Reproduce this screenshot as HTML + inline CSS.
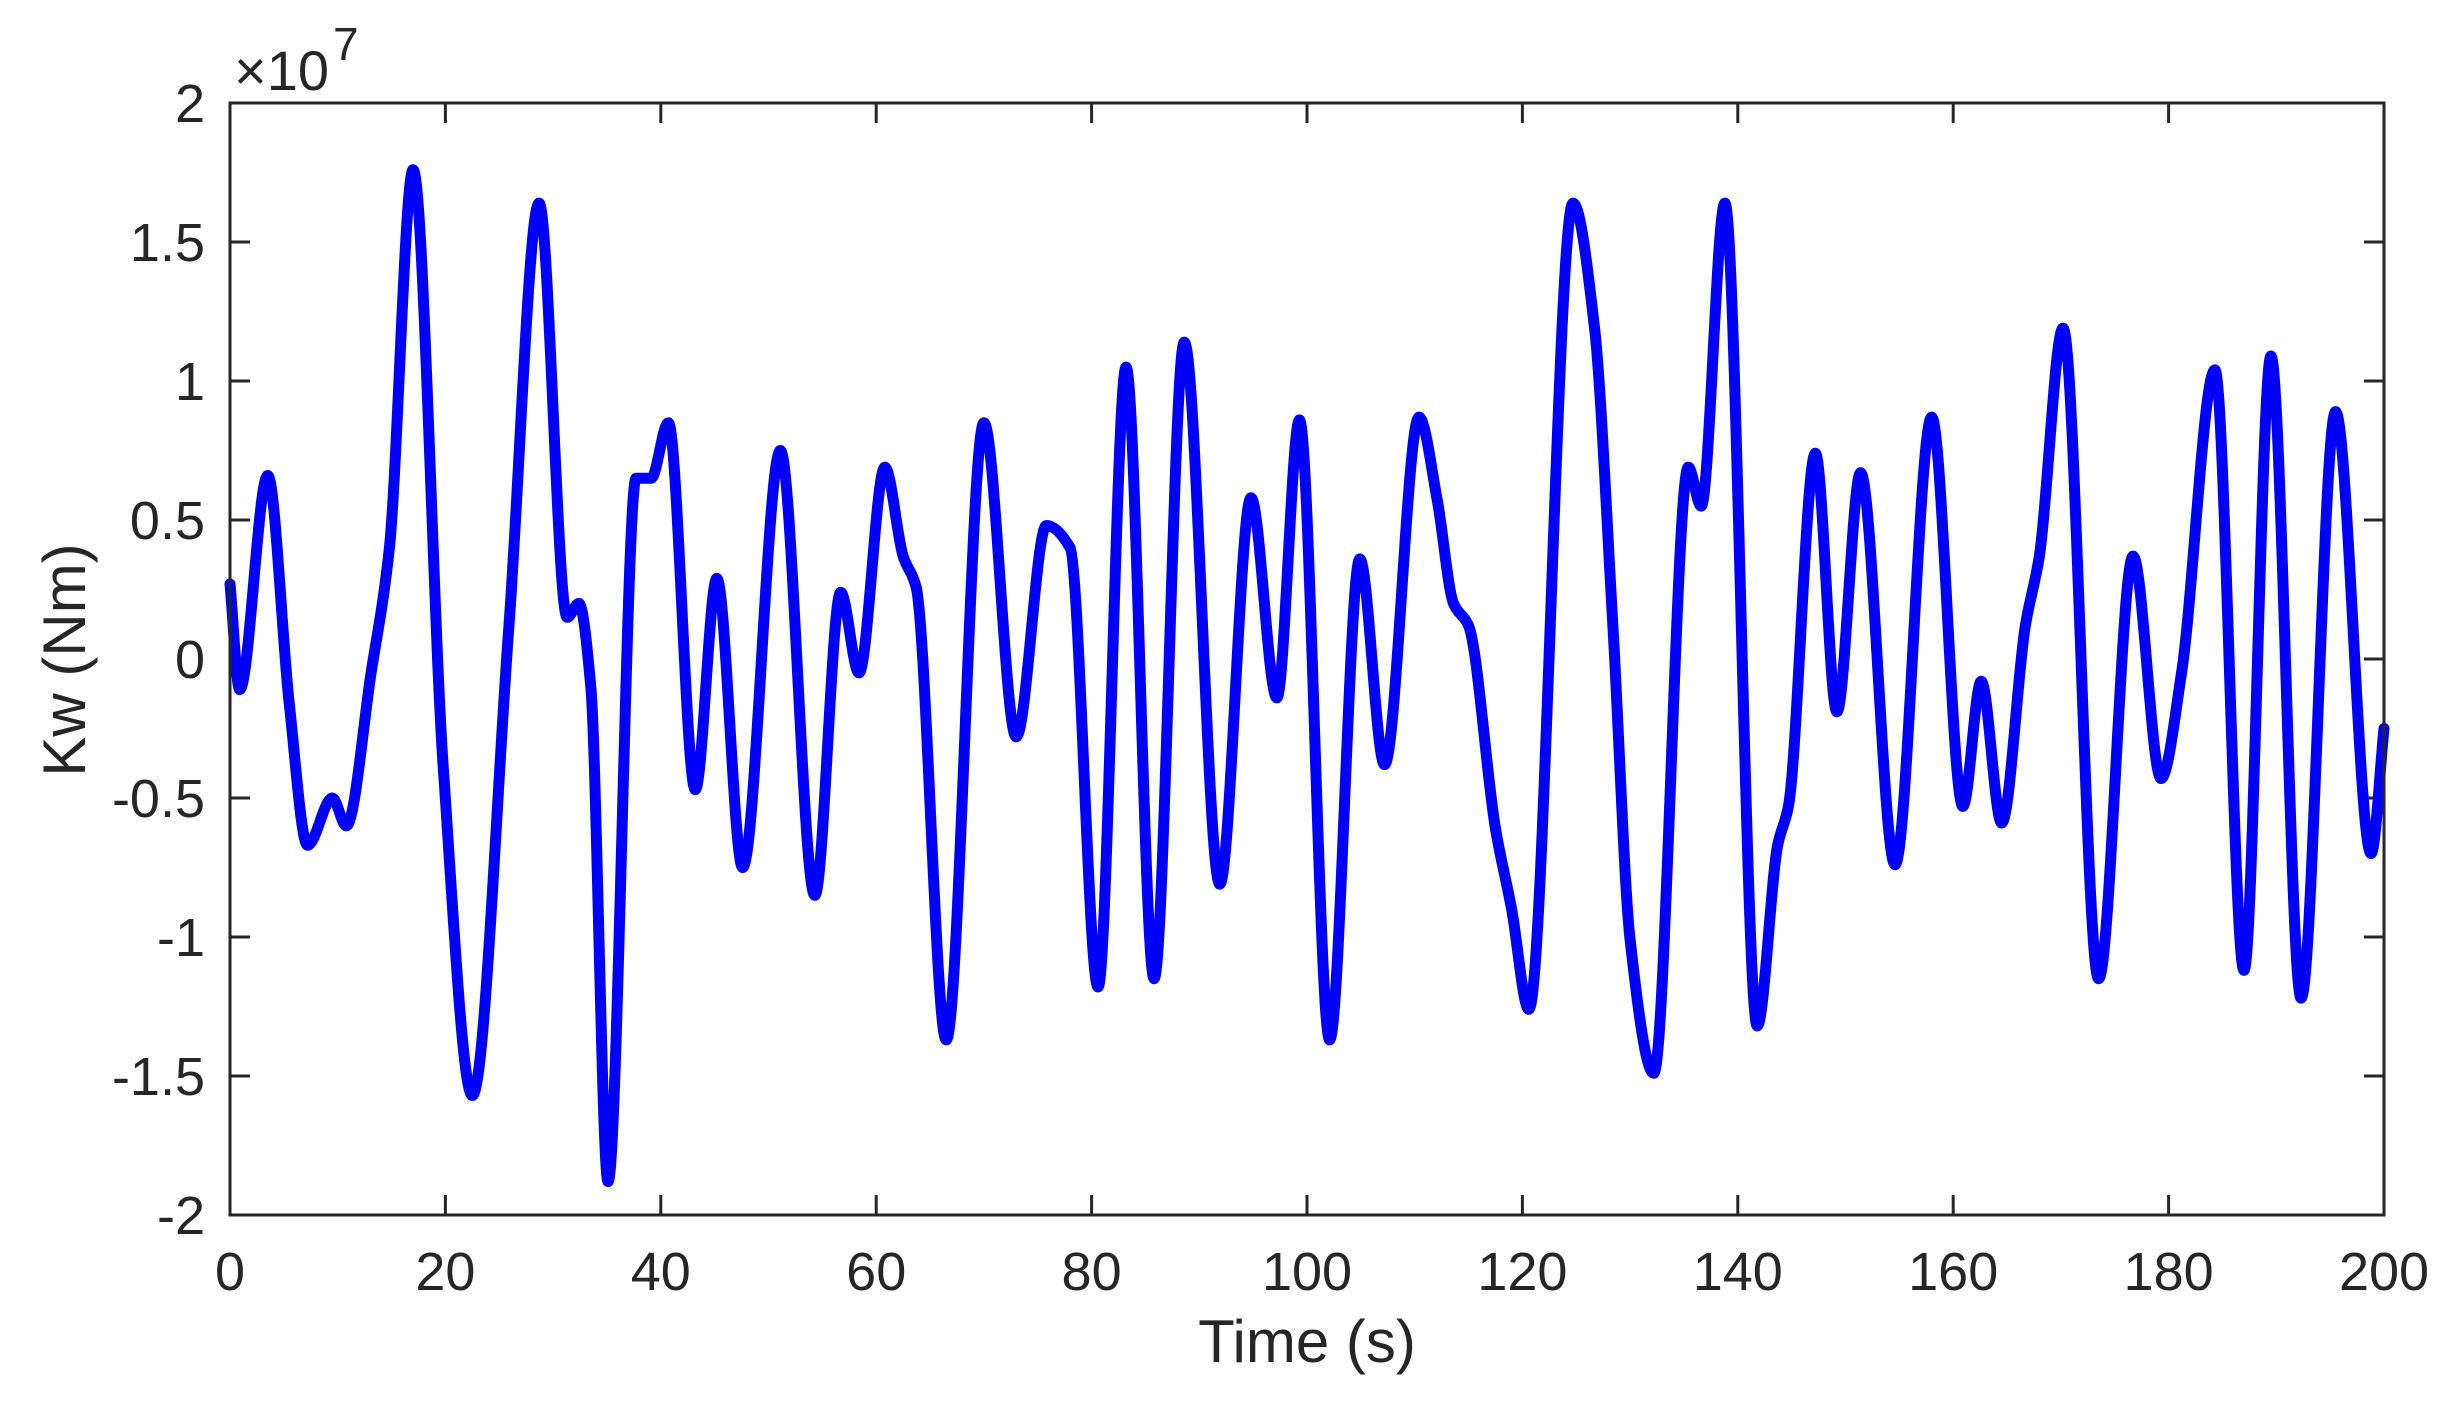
<!DOCTYPE html>
<html><head><meta charset="utf-8"><style>
html,body{margin:0;padding:0;background:#fff;}
svg{display:block;font-family:"Liberation Sans",sans-serif;}
</style></head><body>
<svg id="chart" width="2456" height="1403" viewBox="0 0 2456 1403" xmlns="http://www.w3.org/2000/svg">
<g id="axes"></g>
<path id="series" fill="none" stroke="#0000ff" stroke-width="11" stroke-linejoin="round" stroke-linecap="round"/>
<rect x="230" y="103" width="2154" height="1112" fill="none" stroke="#262626" stroke-width="3"/>
<text x="234" y="90" font-size="56" fill="#262626">×10<tspan font-size="46" dy="-30" dx="4">7</tspan></text>
<text x="1307" y="1362" font-size="60" text-anchor="middle" fill="#262626">Time (s)</text>
<text x="0" y="0" font-size="60" text-anchor="middle" fill="#262626" transform="translate(85,660) rotate(-90)">Kw (Nm)</text>
</svg>
<script>
const times=[0,0.9,3.5,5.5,7.2,9.5,10.8,13.1,14.8,17.0,19.8,22.5,25.9,28.7,31.3,32.4,33.5,35.1,37.7,39.1,40.7,43.2,45.2,47.6,51.1,54.3,56.7,58.4,60.8,62.5,63.7,66.5,70,73,75.8,78,80.6,83.2,85.8,88.6,91.9,94.8,97.2,99.3,102.1,104.9,107.2,110.4,112.1,113.6,115,117.5,119,120.6,124.7,126.7,128.4,130,132.2,135.4,136.6,138.8,141.8,143.7,144.7,147.2,149.2,151.4,154.6,158,160.9,162.6,164.5,166.7,168,170.2,173.5,176.7,179.3,181.2,184.3,187,189.5,192.3,195.5,198.8,200];
const values=[0.27,-0.11,0.66,-0.16,-0.67,-0.5,-0.6,-0.05,0.4,1.76,-0.39,-1.57,0.12,1.64,0.15,0.2,-0.1,-1.88,0.65,0.65,0.85,-0.47,0.29,-0.75,0.75,-0.85,0.24,-0.05,0.69,0.37,0.26,-1.37,0.85,-0.28,0.48,0.4,-1.18,1.05,-1.15,1.14,-0.81,0.58,-0.14,0.86,-1.37,0.36,-0.38,0.87,0.57,0.2,0.12,-0.61,-0.9,-1.26,1.64,1.19,0.12,-1.01,-1.49,0.69,0.55,1.64,-1.32,-0.67,-0.53,0.74,-0.19,0.67,-0.74,0.87,-0.53,-0.08,-0.59,0.12,0.37,1.19,-1.15,0.37,-0.43,-0.05,1.04,-1.12,1.09,-1.22,0.89,-0.7,-0.25];
const xTicks=[0,20,40,60,80,100,120,140,160,180,200];
const yTicks=[-2,-1.5,-1,-0.5,0,0.5,1,1.5,2];
const yTickLabels=["-2","-1.5","-1","-0.5","0","0.5","1","1.5","2"];
const L=230,R=2384,T=103,B=1215;
const xs=t=>L+(t-0)/200*(R-L);
const ys=v=>B-(v+2)/4*(B-T);
const NS="http://www.w3.org/2000/svg";
const ax=document.getElementById('axes');
function mk(tag,attrs,txt){const e=document.createElementNS(NS,tag);for(const k in attrs)e.setAttribute(k,attrs[k]);if(txt!=null)e.textContent=txt;ax.appendChild(e);return e;}
xTicks.forEach(t=>{const x=xs(t);
 let a=mk('line',{x1:x,x2:x,y1:B,y2:B-20,stroke:'#262626','stroke-width':3});
 
 
 let b=mk('line',{x1:x,x2:x,y1:T,y2:T+20,stroke:'#262626','stroke-width':3});
 
 
 let l=mk('text',{x:x,y:1290,'font-size':54,'text-anchor':'middle',fill:'#262626'},String(t));
 
 
});
yTicks.forEach((v,i)=>{const y=ys(v);
 let a=mk('line',{x1:L,x2:L+20,y1:y,y2:y,stroke:'#262626','stroke-width':3});
 
 
 let b=mk('line',{x1:R,x2:R-20,y1:y,y2:y,stroke:'#262626','stroke-width':3});
 
 
 let l=mk('text',{x:205,y:y+19,'font-size':54,'text-anchor':'end',fill:'#262626'},yTickLabels[i]);
 
 
});
// monotone cubic (Fritsch-Carlson) – no overshoot at extrema
const P=times.map((t,i)=>[xs(t),ys(values[i])]);
const n=P.length,dl=[],m=[];
for(let i=0;i<n-1;i++)dl.push((P[i+1][1]-P[i][1])/(P[i+1][0]-P[i][0]));
m[0]=dl[0];m[n-1]=dl[n-2];
for(let i=1;i<n-1;i++){
 if(dl[i-1]*dl[i]<=0)m[i]=0;
 else{const h0=P[i][0]-P[i-1][0],h1=P[i+1][0]-P[i][0];const w1=2*h1+h0,w2=h1+2*h0;m[i]=(w1+w2)/(w1/dl[i-1]+w2/dl[i]);}
}
let d='M'+P[0][0]+','+P[0][1];
for(let i=0;i<n-1;i++){
 const h=(P[i+1][0]-P[i][0])/3;
 d+=' C'+(P[i][0]+h)+','+(P[i][1]+m[i]*h)+' '+(P[i+1][0]-h)+','+(P[i+1][1]-m[i+1]*h)+' '+P[i+1][0]+','+P[i+1][1];
}
document.getElementById('series').setAttribute('d',d);
</script>
</body></html>
